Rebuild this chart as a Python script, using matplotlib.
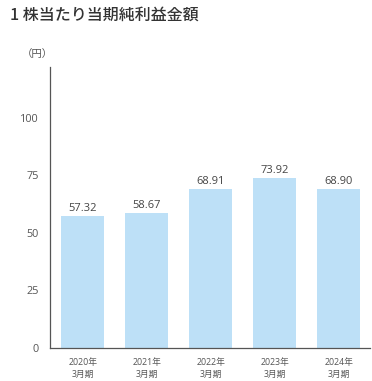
import matplotlib.pyplot as plt

plt.rcParams['font.family'] = ['Open Sans', 'Noto Sans CJK JP', 'DejaVu Sans']

categories = ['2020年\n3月期', '2021年\n3月期', '2022年\n3月期', '2023年\n3月期', '2024年\n3月期']
values = [57.32, 58.67, 68.91, 73.92, 68.90]
value_labels = ['57.32', '58.67', '68.91', '73.92', '68.90']
yticks = [0, 25, 50, 75, 100]

fig = plt.figure(figsize=(3.72, 3.81), dpi=100)
# axes box in pixels: left 50, right 370, bottom 348, top 67
W, H = 372, 381
ax = fig.add_axes([50 / W, (H - 348) / H, 320 / W, (348 - 67) / H])

x = range(len(categories))
ax.bar(x, values, width=0.67, color='#bde0f7', zorder=2)
for i, v in enumerate(values):
    ax.text(i, v + 0.8, value_labels[i], ha='center', va='bottom',
            fontsize=8, color='#444444')

ax.set_xlim(-0.51, 4.49)
ax.set_ylim(0, 122)
ax.set_yticks(yticks)
ax.set_xticks(list(x))
ax.set_xticklabels(categories, fontsize=6.3, color='#555555', linespacing=1.4)
ax.tick_params(axis='y', length=0, labelsize=7.8, labelcolor='#555555', pad=8)
ax.tick_params(axis='x', length=0, pad=7)

for s in ['top', 'right']:
    ax.spines[s].set_visible(False)
for s in ['left', 'bottom']:
    ax.spines[s].set_color('#555555')
    ax.spines[s].set_linewidth(0.9)

fig.text(10 / W, 1 - 15 / H, '1 株当たり当期純利益金額', fontsize=11.5,
         color='#333333', fontweight='medium', va='center', ha='left',
         family=['Noto Sans CJK JP', 'DejaVu Sans'])
fig.text(37 / W, 1 - 54 / H, '（円）', fontsize=7.5, color='#555555',
         va='center', ha='center', family=['Noto Sans CJK JP', 'DejaVu Sans'])

fig.savefig('out.png', dpi=100)
